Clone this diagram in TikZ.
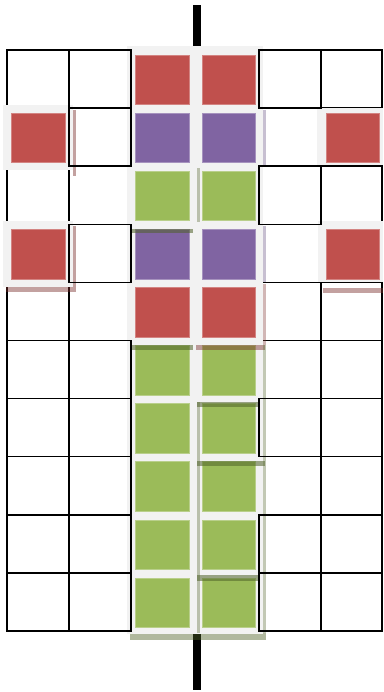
\documentclass[tikz,border=0pt]{standalone}
\definecolor{cred}{HTML}{C0504D}
\definecolor{cpur}{HTML}{8064A2}
\definecolor{cgrn}{HTML}{9BBB59}
\definecolor{padgrey}{HTML}{F2F2F2}
\definecolor{shred}{HTML}{7A2E2C}
\definecolor{shgrn}{HTML}{4F6228}
\definecolor{shpur}{HTML}{5F497A}
\begin{document}
\begin{tikzpicture}[x=1pt,y=-1pt,
  gridline/.style={draw=black,line width=1.5pt},
  padtile/.style={fill=padgrey},
  redsq/.style={fill=cred,draw=cred!70!white,line width=0.6pt},
  pursq/.style={fill=cpur,draw=cpur!70!white,line width=0.6pt},
  grnsq/.style={fill=cgrn,draw=cgrn!70!white,line width=0.6pt},
  shadowred/.style={fill=shred,opacity=0.45},
  shadowgrn/.style={fill=shgrn,opacity=0.55},
  shadowpur/.style={fill=shpur,opacity=0.35},
  bar/.style={fill=black}]
\useasboundingbox (0,0) rectangle (383,692);

% grid cells of outer columns
\foreach \r in {0,...,9} {
  \pgfmathsetmacro\yt{50+58.1*\r}
  \pgfmathsetmacro\yb{50+58.1*(\r+1)}
  \foreach \xl/\xr in {7/69,69/131,259/321,321/382} {
    \draw[gridline] (\xl,\yt) rectangle (\xr,\yb);
  }
}

% black bars
\fill[bar] (193,5) rectangle (201,47);
\fill[bar] (193,633) rectangle (201,690);

% central band with shadow
\fill[shadowgrn,opacity=0.45] (130,633) rectangle (266,640);
\fill[padtile] (127,46) rectangle (263,634);

% side tiles, left column
\fill[shadowred] (73,110) rectangle (76,176);
\fill[padtile] (3,105) rectangle (73,170);
\fill[redsq] (11.5,113) rectangle (65,162);
\fill[shadowred] (73,226) rectangle (76,292);
\fill[shadowred] (6,287) rectangle (73,292);
\fill[padtile] (3,221) rectangle (73,287);
\filldraw[redsq] (11.5,229) rectangle (65,279);
\filldraw[redsq] (11.5,113) rectangle (65,162);

% side tiles, right column
\fill[padtile] (317,108) rectangle (383,165);
\filldraw[redsq] (326,113) rectangle (379,162);
\fill[shadowred] (323,288) rectangle (383,293);
\fill[padtile] (318,221) rectangle (383,282);
\filldraw[redsq] (326,229) rectangle (379,279);

% central squares
\foreach \r/\st in {0/redsq,1/pursq,2/grnsq,3/pursq,4/redsq,5/grnsq,6/grnsq,7/grnsq,8/grnsq,9/grnsq} {
  \pgfmathsetmacro\yt{50+58.1*\r+5}
  \pgfmathsetmacro\yb{50+58.1*\r+54.5}
  \filldraw[\st] (135,\yt) rectangle (189,\yb);
  \filldraw[\st] (202,\yt) rectangle (255,\yb);
}

% faint inner shadows
\fill[shadowgrn] (132,229) rectangle (193,233);
\fill[shadowgrn] (131,345) rectangle (193,350);
\fill[shadowred] (196,345) rectangle (265,350);
\fill[shadowgrn] (197,402) rectangle (258,407);
\fill[shadowgrn] (197,461) rectangle (265,466);
\fill[shadowgrn] (197,575) rectangle (258,581);
\fill[shadowgrn,opacity=0.35] (197,168) rectangle (200,222);
\fill[shadowgrn,opacity=0.35] (197,402) rectangle (200,633);
\fill[shadowgrn,opacity=0.35] (263,345) rectangle (266,633);
\fill[shadowpur] (263,110) rectangle (266,165);
\fill[shadowpur] (263,226) rectangle (266,282);
\fill[shadowred,opacity=0.35] (263,284) rectangle (266,345);

% cell outlines visible over the band edges
\foreach \r in {0,1,3,5,6,7,8,9} {
  \pgfmathsetmacro\yt{50+58.1*\r}
  \pgfmathsetmacro\yb{50+58.1*(\r+1)}
  \draw[gridline] (69,\yt) rectangle (131,\yb);
}
\foreach \r in {0,2,6,8,9} {
  \pgfmathsetmacro\yt{50+58.1*\r}
  \pgfmathsetmacro\yb{50+58.1*(\r+1)}
  \draw[gridline] (259,\yt) rectangle (321,\yb);
}
\end{tikzpicture}
\end{document}
